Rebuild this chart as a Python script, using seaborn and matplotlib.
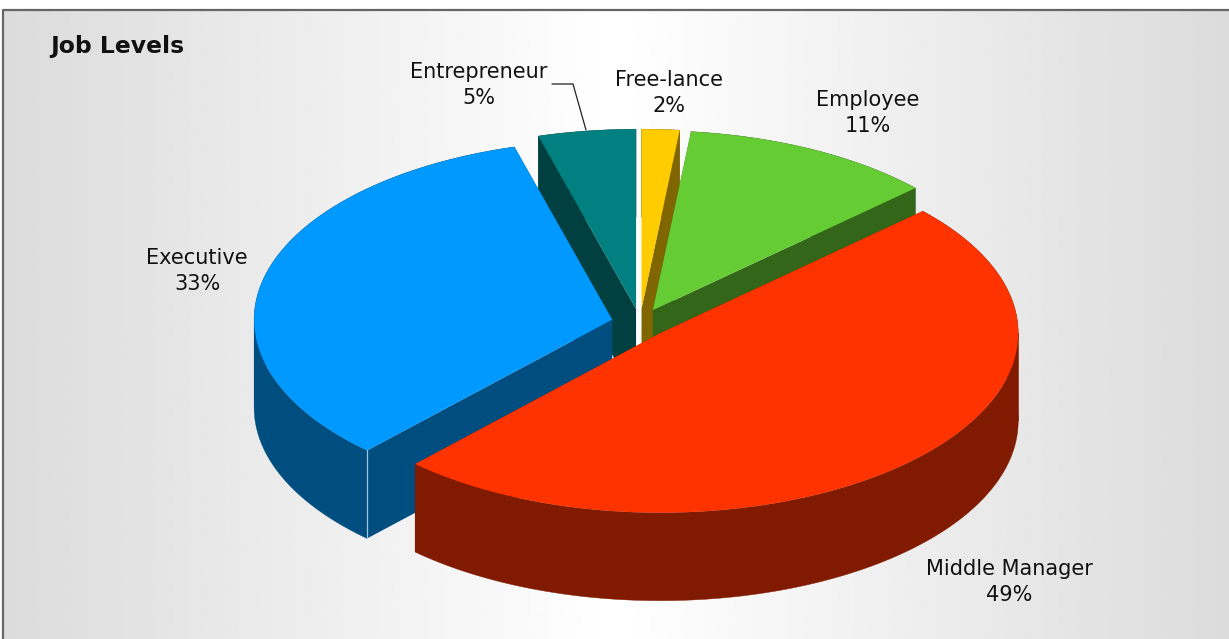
# Job levels - exploded 3D style pie drawn on a pixel sized axes
import numpy as np
import matplotlib
matplotlib.use("Agg")
import matplotlib.pyplot as plt
import seaborn as sns

# Data, clockwise from 12 o'clock
job_levels = ["Free-lance", "Employee", "Middle Manager", "Executive", "Entrepreneur"]
slice_shares = [1.7, 11.4, 48.9, 33.6, 4.4]
shown_percent = [2, 11, 49, 33, 5]

# Pie geometry and styling (in pixels)
CENTER_X, CENTER_Y = 640, 323
RADIUS_X, RADIUS_Y = 358, 179.5
DEPTH = 88
EXPLODE = 0.08
top_colors = sns.color_palette(["#ffcc00", "#66cc33", "#ff3300", "#0099ff", "#008080"])
side_colors = sns.color_palette(["#806600", "#336619", "#801a00", "#004d80", "#004040"])
label_pos = [(669, 93), (868, 113), (1009, 582), (197, 271), (479, 85)]
draw_order = [4, 0, 1, 3, 2]

sns.set_theme(style="white")
plt.rcParams["font.family"] = ["DejaVu Sans"]

fig = plt.figure(figsize=(12.29, 6.39), dpi=100)
ax = fig.add_axes([0, 0, 1, 1])

# Grey-white-grey background
xs = np.array([0.0, 0.5, 1.0])
grad = np.interp(np.linspace(0, 1, 600), xs, [0.86, 1.0, 0.86]).reshape(1, -1)
ax.imshow(grad, cmap="gray", vmin=0, vmax=1, extent=[3, 1229, 639, 10], aspect="auto", zorder=0)
ax.set_xlim(0, 1229)
ax.set_ylim(639, 0)
ax.axis("off")
ax.plot([3, 3, 1229], [639, 10, 10], color="#666666", lw=1.6, zorder=1, solid_capstyle="butt")


def slice_apex(start, end):
    # Exploded apex of a slice, angles measured clockwise from the top
    mid = np.radians((start + end) / 2)
    return (CENTER_X + EXPLODE * RADIUS_X * np.sin(mid),
            CENTER_Y - EXPLODE * RADIUS_Y * np.cos(mid))


def rim(apex, start, end):
    angles = np.radians(np.linspace(start, end, 120))
    return apex[0] + RADIUS_X * np.sin(angles), apex[1] - RADIUS_Y * np.cos(angles)


# Slice angles from the shares
edges = np.cumsum([0] + slice_shares) / sum(slice_shares) * 360

# Far slices first so nearer ones cover them
for z, i in enumerate(draw_order):
    start, end = edges[i], edges[i + 1]
    apex = slice_apex(start, end)
    side = side_colors[i]

    # Outer wall, split where the rim turns so its vertical sides get drawn
    cuts = [start] + [a for a in (90, 270) if start < a < end] + [end]
    for a0, a1 in zip(cuts[:-1], cuts[1:]):
        wx, wy = rim(apex, a0, a1)
        ax.fill(np.r_[wx, wx[::-1]], np.r_[wy, wy[::-1] + DEPTH], color=side, lw=0.3, zorder=2 + z)

    # The two cut faces
    rx_, ry_ = rim(apex, start, end)
    for j in (0, -1):
        ax.fill([apex[0], rx_[j], rx_[j], apex[0]],
                [apex[1], ry_[j], ry_[j] + DEPTH, apex[1] + DEPTH],
                color=side, lw=0, zorder=2 + z)

    # Top of the slice
    ax.fill(np.r_[apex[0], rx_], np.r_[apex[1], ry_], color=top_colors[i], lw=0, zorder=2 + z)

    if job_levels[i] == "Executive":
        # thin light edge at the corner of the blue slice
        ax.plot([rx_[0], rx_[0]], [ry_[0], ry_[0] + DEPTH], color="#9cc6e0", lw=0.9, zorder=2 + z)

# Labels
for name, pct, (lx, ly) in zip(job_levels, shown_percent, label_pos):
    ax.text(lx, ly, f"{name}\n{pct}%", ha="center", va="center", fontsize=15,
            color="#111111", linespacing=1.33, zorder=20)

# Leader line for the small slice
ax.plot([552, 573, 586], [84, 84, 130], color="#222222", lw=0.9, zorder=20)

ax.text(50, 47, "Job Levels", fontsize=16.9, fontweight="bold", color="#111111",
        ha="left", va="center", zorder=20)

fig.savefig("out.png", dpi=100)
